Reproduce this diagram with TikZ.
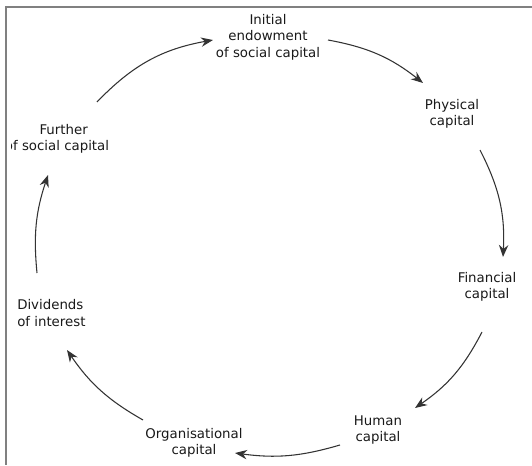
\documentclass[tikz,border=0pt]{standalone}
\usepackage{fontspec}
\setmainfont{DejaVu Sans}
\usetikzlibrary{arrows.meta}

\begin{document}
\begin{tikzpicture}[x=0.75pt, y=0.75pt,
    stage/.style={align=center, inner sep=0pt, text=black!90, font=\fontsize{10}{12.4}\selectfont},
    cyc/.style={draw=black!80, line width=0.8pt, -{Stealth[length=9pt, width=7pt]}}]
      \useasboundingbox (0,0) rectangle (532,465);
      \draw[gray, line width=1.3pt] (532,458) -- (6,458) -- (6,0);
      \node[stage] (initial) at (268,428) {Initial\\endowment\\of social capital};
      \node[stage] (physical) at (452,351) {Physical\\capital};
      \node[stage] (financial) at (487,178) {Financial\\capital};
      \node[stage] (human) at (378,35) {Human\\capital};
      \node[stage] (organ) at (194,22) {Organisational\\capital};
      \node[stage, align=left, anchor=west] (dividends) at (17,152) {Dividends\\of interest};
      \begin{scope}
        \clip (11,0) rectangle (532,465);
        \node[stage] (further) at (57,326) {\hspace*{10pt}Further\\of social capital};
      \end{scope}
      \draw[cyc] ([shift={(40,37)}]further.center) to[bend left=18] ([shift={(-55,-3)}]initial.center);
      \draw[cyc] ([shift={(60,-3)}]initial.center) to[bend left=14] ([shift={(-29,31)}]physical.center);
      \draw[cyc] ([shift={(28,-36)}]physical.center) to[bend left=15] ([shift={(16,30)}]financial.center);
      \draw[cyc] ([shift={(-5,-45)}]financial.center) to[bend left=14] ([shift={(37,22)}]human.center);
      \draw[cyc] ([shift={(-38,-15)}]human.center) to[bend left=12] ([shift={(41,-10)}]organ.center);
      \draw[cyc] ([shift={(-51,23)}]organ.center) to[bend left=13] ([shift={(50,-37)}]dividends.west);
      \draw[cyc] ([shift={(20,40)}]dividends.west) to[bend left=12] ([shift={(-9,-36)}]further.center);
    \end{tikzpicture}
\end{document}
